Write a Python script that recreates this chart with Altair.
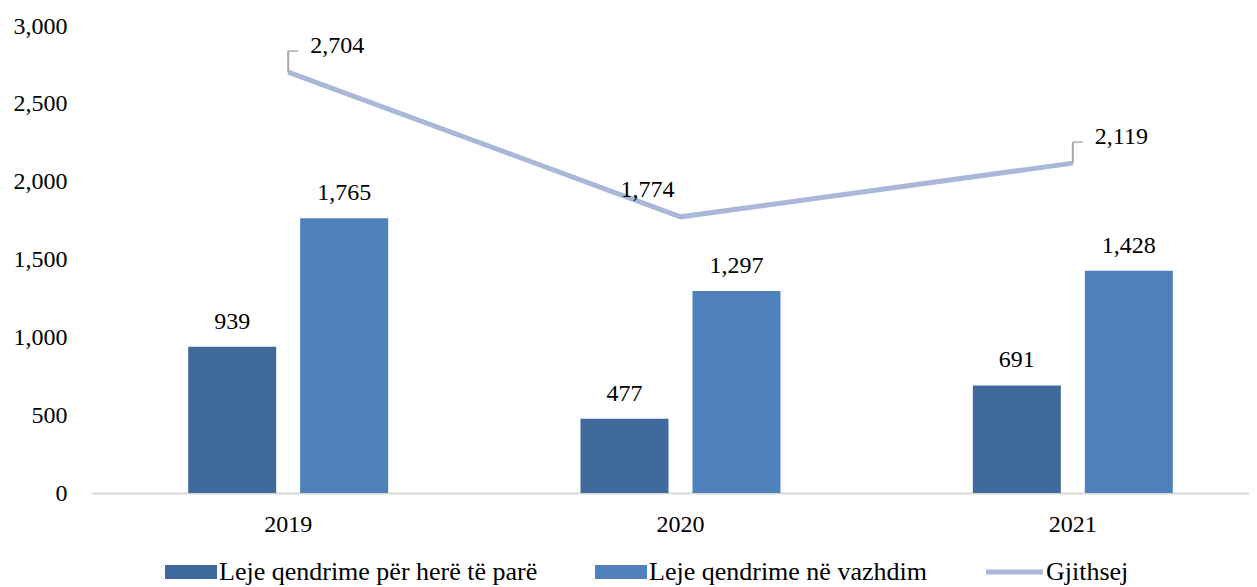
import altair as alt
import pandas as pd

years = ["2019", "2020", "2021"]
first_time = [939, 477, 691]
continuing = [1765, 1297, 1428]
totals = [2704, 1774, 2119]
series_names = ["Leje qendrime për herë të parë", "Leje qendrime në vazhdim"]
total_name = "Gjithsej"
y_ticks = [0, 500, 1000, 1500, 2000, 2500, 3000]

FONT = "Liberation Serif"
FS = 24
LFS = 26
DARK = "#406A9B"
LIGHT = "#4F81BD"
LINE = "#A9B8D9"
LEADER = "#A6A6A6"

bars_df = pd.DataFrame({
    "year": years * 2,
    "series": [series_names[0]] * 3 + [series_names[1]] * 3,
    "value": first_time + continuing,
})
line_df = pd.DataFrame({"year": years, "total": totals, "name": [total_name] * 3})

x_scale = alt.Scale(paddingInner=0, paddingOuter=0, range=[0, 1177])
x_axis = alt.Axis(title=None, labelAngle=0, ticks=False, domainColor="#D9D9D9",
                  domainWidth=2, labelPadding=19, labelFontSize=FS, labelColor="black",
                  grid=False)
y_scale = alt.Scale(domain=[0, 3000], nice=False)
y_axis = alt.Axis(title=None, values=y_ticks, format=",", labelExpr="format(datum.value, ',')",
                  grid=False, ticks=False, domain=False,
                  labelPadding=25, labelFontSize=FS, labelColor="black")


def X():
    return alt.X("year:N", sort=years, scale=x_scale, axis=x_axis)


def Y(field):
    return alt.Y(f"{field}:Q", scale=y_scale, axis=y_axis)


xoff = alt.XOffset("series:N", sort=series_names,
                   scale=alt.Scale(paddingInner=0.2143, paddingOuter=0.8587))

bars = alt.Chart(bars_df).mark_bar().encode(
    x=X(),
    xOffset=xoff,
    y=Y("value"),
    color=alt.Color("series:N", sort=series_names,
                    scale=alt.Scale(domain=series_names, range=[DARK, LIGHT]),
                    legend=alt.Legend(title=None, orient="none", legendX=67, legendY=533,
                                      direction="horizontal", symbolType="M-1,-1H6.43V1H-1Z",
                                      symbolSize=196, labelFontSize=LFS, labelOffset=34,
                                      columnPadding=51, labelLimit=0, padding=0,
                                      symbolStrokeWidth=0, labelColor="black")),
)

bar_labels = alt.Chart(bars_df).mark_text(dy=-25, baseline="middle", fontSize=FS, color="black").encode(
    x=X(),
    xOffset=xoff,
    y=Y("value"),
    text=alt.Text("value:Q", format=","),
)

line = alt.Chart(line_df).mark_line(strokeWidth=5).encode(
    x=X(),
    y=Y("total"),
    stroke=alt.Stroke("name:N", scale=alt.Scale(domain=[total_name], range=[LINE]),
                      legend=alt.Legend(title=None, orient="none", legendX=888, legendY=533,
                                        symbolType="M-1,0H7.14", symbolSize=196, symbolStrokeWidth=5,
                                        labelFontSize=LFS, labelOffset=40, padding=0,
                                        labelColor="black")),
)

leader_v = alt.Chart(line_df).transform_filter("datum.year != '2020'").mark_rule(
    color=LEADER, strokeWidth=2, y2Offset=-21).encode(
    x=X(),
    y=Y("total"),
    y2=alt.Y2("total:Q"),
)

leader_h = alt.Chart(line_df).transform_filter("datum.year != '2020'").mark_tick(
    orient="horizontal", size=10, thickness=2, xOffset=5, yOffset=-21, color=LEADER).encode(
    x=X(),
    y=Y("total"),
)

line_labels = alt.Chart(line_df).transform_filter("datum.year != '2020'").mark_text(
    align="left", dx=22, dy=-26, baseline="middle", fontSize=FS, color="black").encode(
    x=X(),
    y=Y("total"),
    text=alt.Text("total:Q", format=","),
)

line_label_mid = alt.Chart(line_df).transform_filter("datum.year == '2020'").mark_text(
    align="center", dx=-33, dy=-27, baseline="middle", fontSize=FS, color="black").encode(
    x=X(),
    y=Y("total"),
    text=alt.Text("total:Q", format=","),
)

chart = alt.layer(
    bars, bar_labels, line, leader_v, leader_h, line_labels, line_label_mid
).properties(
    width=1157, height=467,
    autosize=alt.AutoSizeParams(type="none"),
    padding={"left": 84, "top": 18, "right": 0, "bottom": 93},
).configure(font=FONT).configure_view(stroke=None).configure_axis(
    labelFont=FONT).configure_legend(labelFont=FONT)

chart.save("out.html", embed_options={"renderer": "svg", "actions": False})
